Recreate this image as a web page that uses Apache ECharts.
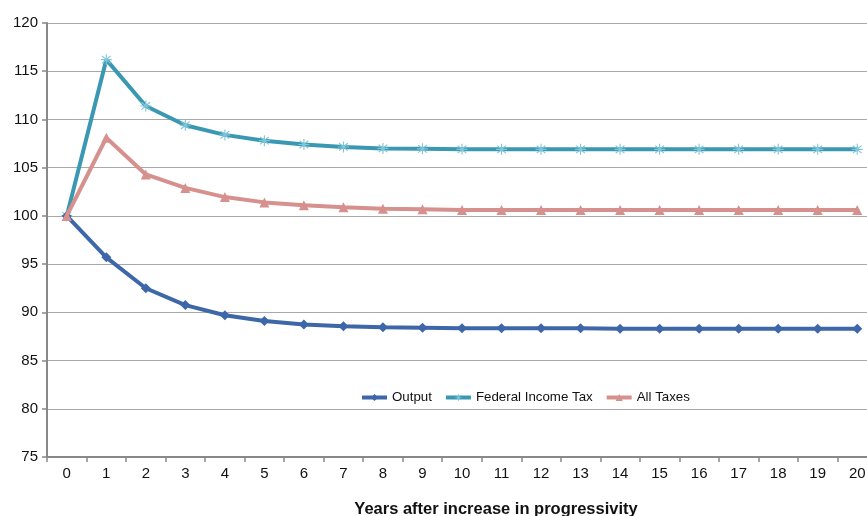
<!DOCTYPE html>
<html><head><meta charset="utf-8">
<script src="https://cdn.jsdelivr.net/npm/echarts@6/dist/echarts.min.js"></script>
<style>html,body{margin:0;padding:0;background:#fff;overflow:hidden}#c{width:877px;height:516px}</style>
</head><body><div id="c"></div>
<script>
const years = ['0','1','2','3','4','5','6','7','8','9','10','11','12','13','14','15','16','17','18','19','20'];
const output = [100, 95.7, 92.5, 90.75, 89.7, 89.1, 88.75, 88.55, 88.45, 88.4, 88.35, 88.35, 88.35, 88.35, 88.3, 88.3, 88.3, 88.3, 88.3, 88.3, 88.3];
const fedTax = [100, 116.2, 111.4, 109.4, 108.4, 107.8, 107.4, 107.15, 107.0, 106.95, 106.9, 106.9, 106.9, 106.9, 106.9, 106.9, 106.9, 106.9, 106.9, 106.9, 106.9];
const allTaxes = [100, 108.1, 104.3, 102.9, 101.95, 101.4, 101.1, 100.9, 100.75, 100.7, 100.6, 100.6, 100.6, 100.6, 100.6, 100.6, 100.6, 100.6, 100.6, 100.6, 100.6];
const yTicks = {min: 75, max: 120, interval: 5};

const star = 'path://M4.5,0 L5.5,0 L5.5,3.8 L8.6,1.2 L9.3,2 L6.2,4.5 L10,4.5 L10,5.5 L6.2,5.5 L9.3,8 L8.6,8.8 L5.5,6.2 L5.5,10 L4.5,10 L4.5,6.2 L1.4,8.8 L0.7,8 L3.8,5.5 L0,5.5 L0,4.5 L3.8,4.5 L0.7,2 L1.4,1.2 L4.5,3.8 Z';

const chart = echarts.init(document.getElementById('c'));
chart.setOption({
  animation: false,
  title: {
    text: 'Years after increase in progressivity',
    left: 491, top: 496, textAlign: 'center',
    textStyle: {fontFamily: 'Liberation Sans, Arial', fontSize: 16.5, fontWeight: 'bold', color: '#111'}
  },
  legend: {
    left: 355, top: 386, itemGap: 12, itemWidth: 25, itemHeight: 9,
    lineStyle: {width: 4},
    textStyle: {fontFamily: 'Liberation Sans, Arial', fontSize: 13.3, color: '#111'},
    data: ['Output', 'Federal Income Tax', 'All Taxes']
  },
  grid: {left: 47, top: 23, bottom: 59, right: 0},
  xAxis: {
    type: 'category', data: years, boundaryGap: true,
    axisLine: {lineStyle: {color: '#888', width: 2}},
    axisTick: {show: true, lineStyle: {color: '#888', width: 1.5}, length: 5},
    axisLabel: {fontFamily: 'Liberation Sans, Arial', fontSize: 15, color: '#111', margin: 9}
  },
  yAxis: {
    type: 'value', min: yTicks.min, max: yTicks.max, interval: yTicks.interval,
    axisLine: {show: true, lineStyle: {color: '#888', width: 2}},
    axisTick: {show: true, lineStyle: {color: '#888', width: 1.5}, length: 5},
    axisLabel: {fontFamily: 'Liberation Sans, Arial', fontSize: 15, color: '#111', margin: 9},
    splitLine: {lineStyle: {color: '#A8A8A8', width: 1}}
  },
  series: [
    {name: 'Output', type: 'line', data: output, symbol: 'diamond', symbolSize: 10,
     lineStyle: {color: '#3D67A8', width: 4}, itemStyle: {color: '#3D67A8'}, z: 3},
    {name: 'Federal Income Tax', type: 'line', data: fedTax, symbol: star, symbolSize: 11,
     lineStyle: {color: '#3A98B3', width: 4}, itemStyle: {color: '#7FC6D8'}, z: 2},
    {name: 'All Taxes', type: 'line', data: allTaxes, symbol: 'triangle', symbolSize: 10,
     lineStyle: {color: '#D6908E', width: 4}, itemStyle: {color: '#D6908E'}, z: 4}
  ]
});
</script></body></html>
